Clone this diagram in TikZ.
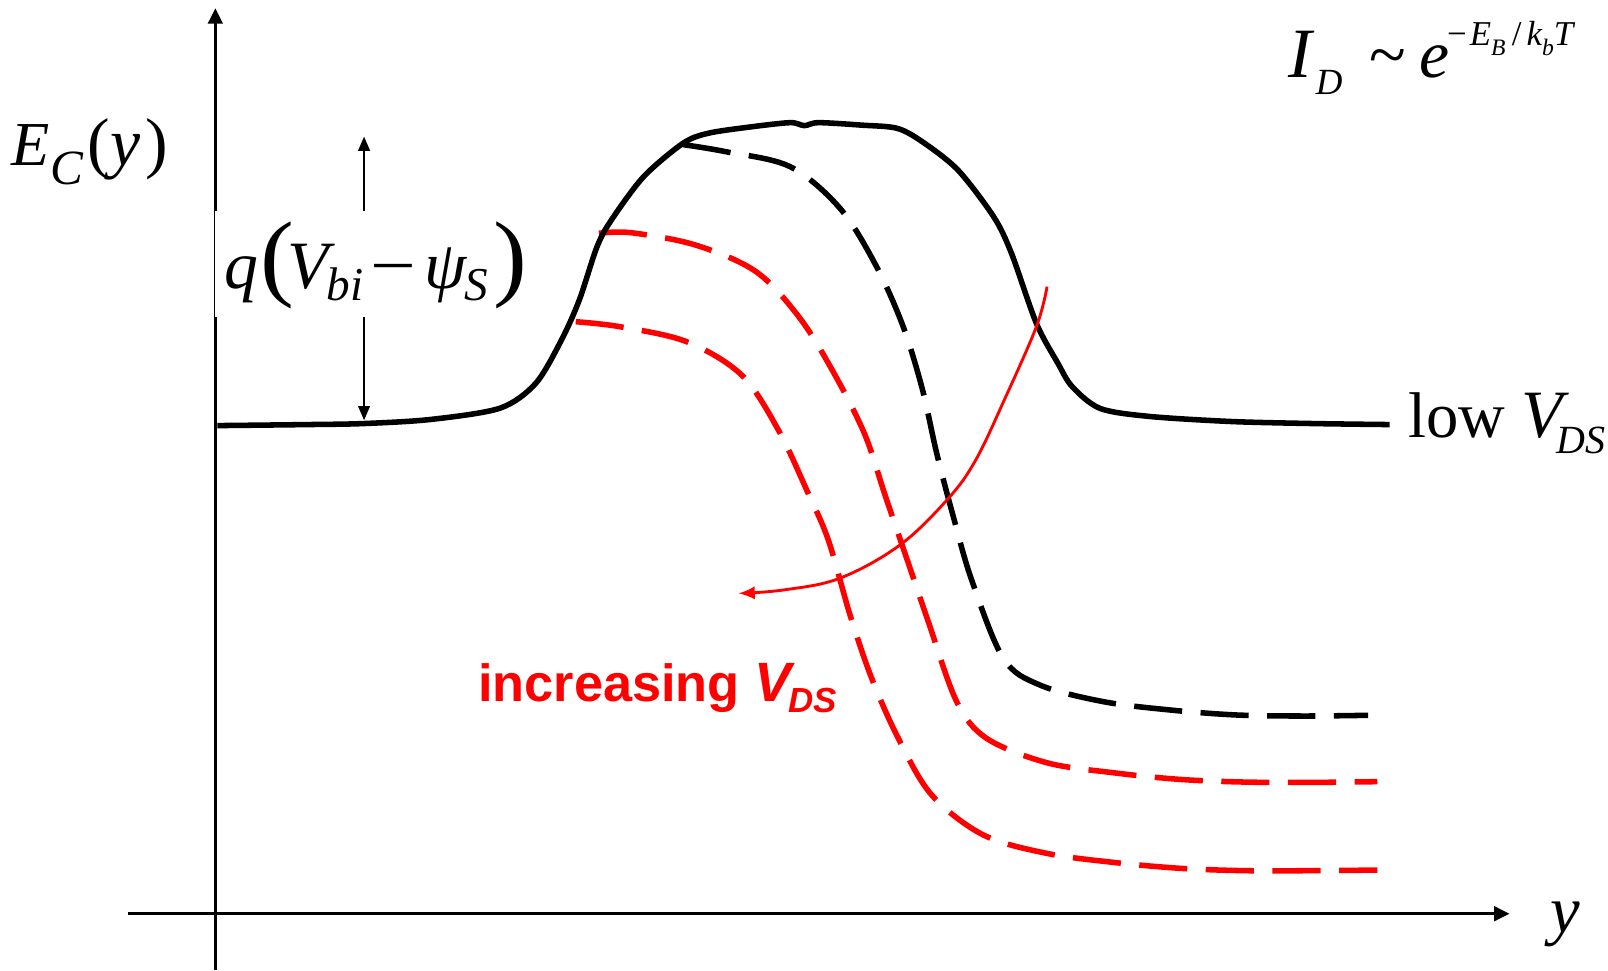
\documentclass[tikz,border=0pt]{standalone}
\usepackage{graphicx}
\usepackage{fontspec}
\setmainfont{Liberation Serif}
\newfontfamily\arialfam{Liberation Sans}
\usetikzlibrary{arrows.meta}
\definecolor{pptred}{RGB}{255,0,0}
\newcommand\fs[1]{\fontsize{#1}{#1}\selectfont}
\begin{document}
\begin{tikzpicture}[x=1pt,y=-1pt,
  axisline/.style={line width=3.2pt,-{Triangle[length=15pt,width=14pt]}},
  solidcurve/.style={line width=5.4pt,line join=round},
  dashcurve/.style={line width=5.4pt,dash pattern=on 47pt off 18pt},
  thinline/.style={line width=2.8pt},
  smalltip/.style={-{Triangle[length=14pt,width=11pt]}},
  redtip/.style={-{Latex[length=16pt,width=13pt]}},
  lbl/.style={inner sep=0pt,anchor=base west}]
\path[use as bounding box] (0,0) rectangle (1568,946);

% axes
\coordinate (yaxB) at (210,946);
\coordinate (yaxT) at (210,8);
\coordinate (xaxL) at (125,891);
\coordinate (xaxR) at (1472,891);
\draw[axisline] (yaxB) -- (yaxT);
\draw[axisline] (xaxL) -- (xaxR);

% curves
\draw[dashcurve,pptred] plot[smooth,tension=0.55] coordinates {(561.4,313.7) (604.6,318.6) (669.6,333.2) (723.2,365.7) (759,419.3) (786.6,477.8) (807.7,526.6) (828.9,599.7) (850,661.4) (876,720) (908.5,775.2) (958.9,814.2) (1020.6,832.1) (1085.6,840.9) (1150.6,846.7) (1214,849) (1280.6,849) (1343,848.4)};
\draw[dashcurve,pptred] plot[smooth,tension=0.55] coordinates {(584,227.5) (615.3,226.9) (678.1,238.9) (737.2,264.9) (780.1,310.4) (814.2,365.7) (843.5,424.2) (863,482.7) (884.1,544.4) (905.2,606.2) (932.9,684.2) (962.1,720) (1020.6,743.7) (1085.6,753.5) (1150.6,760) (1214,762.6) (1280.6,762.9) (1343,762.2)};
\draw[dashcurve] plot[smooth,tension=0.55] coordinates {(666,141) (707.7,147.9) (770.4,162.5) (819.1,203.1) (853.9,258.4) (880.1,316.9) (899.2,378.7) (913.4,442) (929.6,503.8) (947.5,565.6) (978.4,642) (1014.1,668) (1075.9,684.2) (1140.9,692.3) (1205.9,697.2) (1270.9,698.2) (1334,697.5)};
\draw[solidcurve] plot[smooth,tension=0.5] coordinates {(212,415) (300,414) (355,413) (420,409) (487.6,398) (522.4,373.8) (547.5,331.5) (564.9,292.5) (582.2,240.5) (596.2,214.5) (627.6,172.3) (665.9,139.8) (690.3,130) (730,124) (770.4,119.6) (784.3,122.5) (798.2,119.6) (840,122) (874.7,125.1) (899.2,138.1) (934.1,165.8) (968.9,211.3) (986.3,247) (1010.6,315.3) (1031.6,354.3) (1045.5,377) (1072.6,398.2) (1120,406) (1200,411) (1280,413) (1355,414)};

% red arc arrow
\draw[thinline,pptred,redtip] plot[smooth,tension=0.6] coordinates {(1021,279.5) (1010.6,318.5) (979.3,390) (951.4,448.6) (924.7,486) (877.6,531.4) (819,563.8) (763.8,575.3) (720,578.6)};

% labels
\node[lbl] (ec) at (11,161) {\fs{61}\itshape E\hspace{1pt}\raisebox{-19pt}{\fs{48}C}\upshape\hspace{4pt}\fs{66}(\itshape y\upshape\hspace{5pt})};

\node[fill=white,inner sep=0pt,anchor=base west] (qlab) at (209.5,281)
 {\rule[-28pt]{0pt}{103pt}\fs{66}\hspace{9.5pt}\itshape q\upshape\hspace{2pt}\scalebox{1.5}[1.42]{(}\hspace{-7pt}\itshape V\hspace{-2pt}\raisebox{-12pt}{\fs{46}bi}\upshape\hspace{7pt}\scalebox{1.2}[1]{−}\hspace{8pt}\itshape ψ\hspace{-2pt}\raisebox{-12pt}{\fs{46}S}\hspace{5pt}\upshape\scalebox{1.5}[1.42]{)}\hspace{5pt}};

\coordinate (atop) at (355,133);
\coordinate (abot) at (355,410);
\draw[thinline,smalltip] (qlab.north -| atop) -- (atop);
\draw[thinline,smalltip] (qlab.south -| abot) -- (abot);

\node[lbl] (lowvds) at (1373,427) {\fs{63}low \fs{66}\itshape V\hspace{-6pt}\raisebox{-15pt}{\fs{39}DS}};

\node[lbl] (id) at (1256,76) {\fs{69}\itshape I\hspace{4pt}\raisebox{-16.5pt}{\fs{36}D}\upshape\hspace{26pt}\fs{66}\textasciitilde\hspace{13pt}\itshape e\hspace{-2pt}\raisebox{32pt}{\fs{34}\upshape−\hspace{3pt}\itshape E\raisebox{-10pt}{\fs{23}B}\hspace{6pt}\upshape/\hspace{5pt}\itshape k\raisebox{-10pt}{\fs{23}b}T}};

\node[lbl] (ylab) at (1512,909) {\fs{65}\itshape y};

\node[lbl,text=pptred] (incr) at (466,684) {\arialfam\bfseries\fs{51}increasing \fs{54}\itshape V\hspace{-3pt}\raisebox{-11pt}{\fs{34}DS}};
\end{tikzpicture}
\end{document}
